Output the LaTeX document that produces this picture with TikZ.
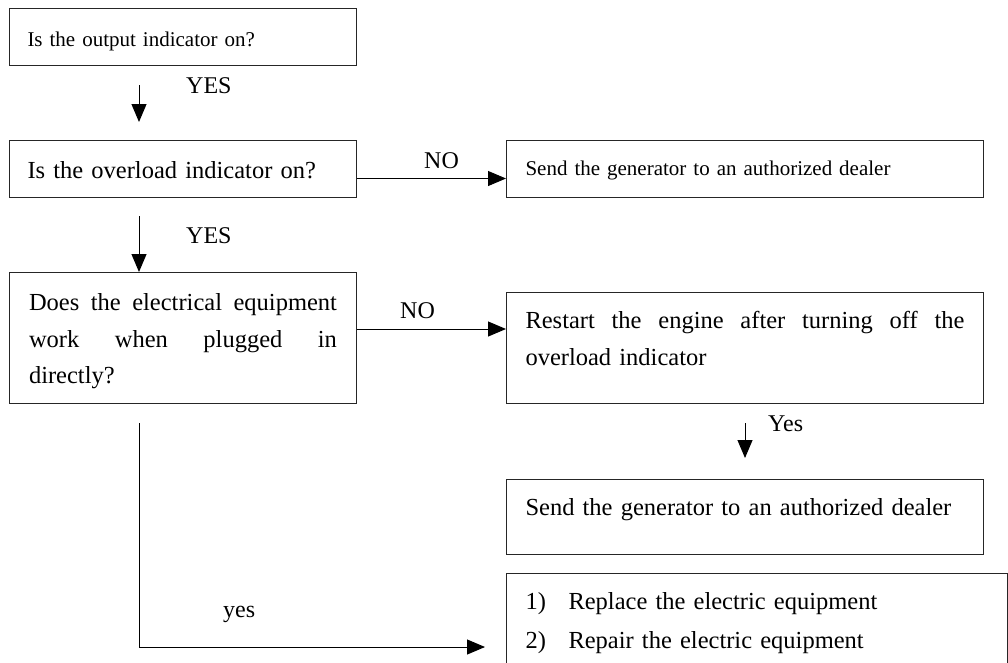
\documentclass[tikz,border=0pt]{standalone}
\usepackage{fontspec}
\setmainfont{Liberation Serif}
\usetikzlibrary{arrows.meta}
\tikzset{
  box/.style={draw=black!85, line width=1pt, anchor=north west, inner ysep=0pt, inner xsep=19pt},
  bigtxt/.style={font=\fontsize{24.5}{36.5}\selectfont},
  smalltxt/.style={font=\fontsize{21}{25}\selectfont},
  lbl/.style={font=\fontsize{24}{28}\selectfont, anchor=base west, inner sep=0pt},
  arr/.style={line width=1pt, -{Triangle[length=18pt,width=15pt]}},
}
\begin{document}
\begin{tikzpicture}[x=1pt,y=1pt]
\useasboundingbox (0,0) rectangle (1008,-662);
% boxes
\node[box, smalltxt, text width=311pt, inner xsep=18pt, text height=38pt, text depth=19pt] (b1) at (9,-8)
  {\hbox{Is the output indicator on?}};
\node[box, bigtxt, text width=311pt, inner xsep=18pt, text height=38pt, text depth=19pt] (b2) at (9,-140)
  {\hbox{Is the overload indicator on?}};
\node[box, bigtxt, text width=308pt, inner xsep=19.5pt, text height=38pt, text depth=93pt] (b3) at (9,-272)
  {\hbox to\linewidth{Does\hfill the\hfill electrical\hfill equipment}
   \hbox to\linewidth{work\hfill when\hfill plugged\hfill in}
   \hbox to\linewidth{directly?\hfill}};
\node[box, smalltxt, text width=439pt, text height=35pt, text depth=22pt] (b4) at (506,-140)
  {\hbox{Send the generator to an authorized dealer}};
\node[box, bigtxt, text width=439pt, text height=36pt, text depth=75pt] (b5) at (506,-292)
  {\hbox to\linewidth{Restart\hfill the\hfill engine\hfill after\hfill turning\hfill off\hfill the}
   \hbox to\linewidth{overload indicator\hfill}};
\node[box, bigtxt, text width=439pt, text height=36pt, text depth=39pt] (b6) at (506,-479)
  {\hbox{Send the generator to an authorized dealer}};
\node[box, font=\fontsize{24.5}{39}\selectfont, text width=463pt, text height=36pt, text depth=120pt] (b7) at (506,-573)
  {\hbox to\linewidth{\makebox[43pt][l]{1)}Replace the electric equipment\hfill}
   \hbox to\linewidth{\makebox[43pt][l]{2)}Repair the electric equipment\hfill}};
% labels
\node[lbl] (yes1) at (186,-93) {YES};
\node[lbl] (yes2) at (186,-243) {YES};
\node[lbl] (no1) at (424,-168) {NO};
\node[lbl] (no2) at (400,-318) {NO};
\node[lbl] (yes3) at (768,-431) {Yes};
\node[lbl] (yes4) at (223,-617) {yes};
% connectors
\coordinate (lx) at (139,0);
\coordinate (yc) at (0,-647);
\draw[arr, shorten <=19pt, shorten >=18pt] (b1.south -| lx) -- (b2.north -| lx);
\draw[arr, shorten <=18pt] (b2.south -| lx) -- (b3.north -| lx);
\draw[arr] ([yshift=-9.5pt]b2.east) -- ([yshift=-9.5pt]b4.west);
\draw[arr] ([yshift=9pt]b3.east) -- ([yshift=9pt]b3.east -| b5.west);
\draw[arr, shorten <=19pt, shorten >=21pt] (b5.south) -- (b6.north);
\draw[arr, shorten <=19pt, shorten >=21pt] (b3.south -| lx) |- (b7.west |- yc);
\end{tikzpicture}
\end{document}
